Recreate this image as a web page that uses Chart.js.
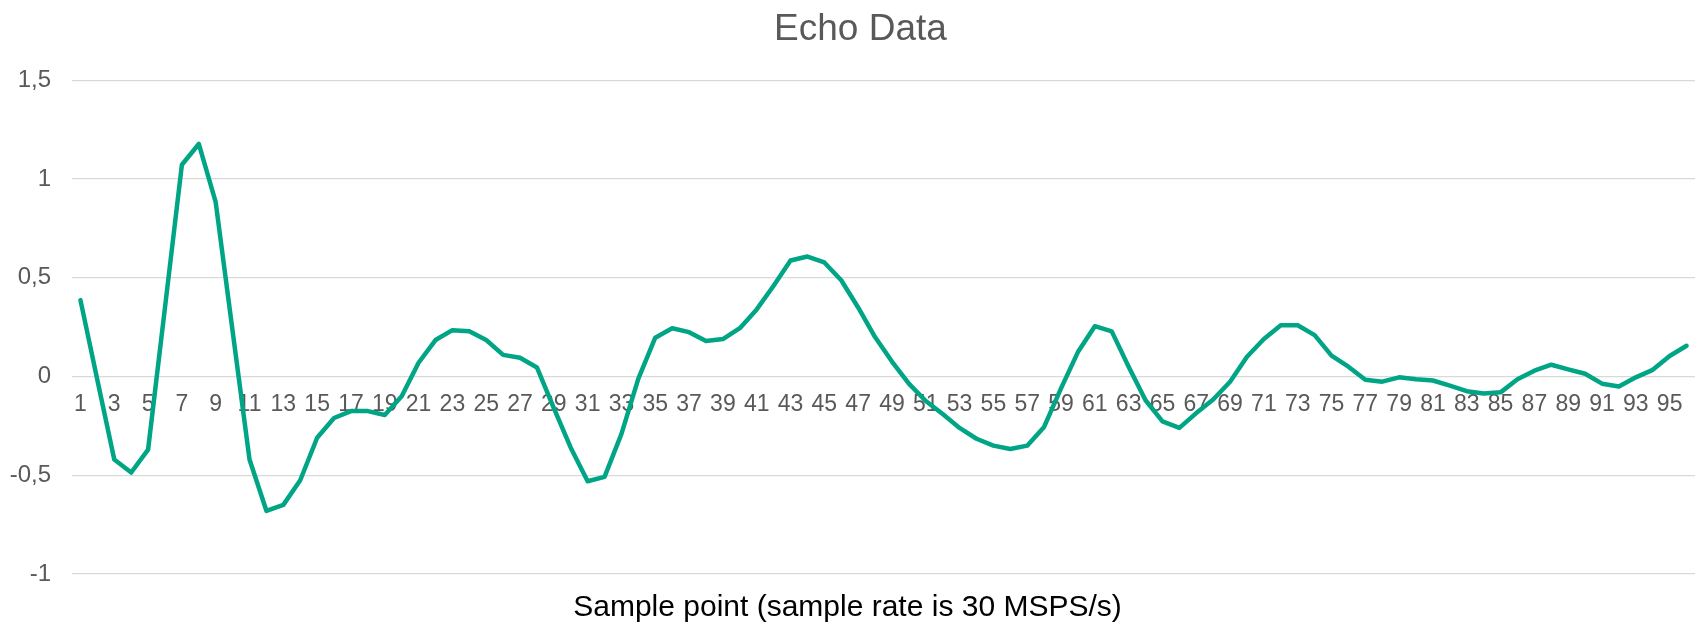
<!DOCTYPE html>
<html>
<head>
<meta charset="utf-8">
<title>Echo Data</title>
<script src="https://cdn.jsdelivr.net/npm/chart.js@4.4.0/dist/chart.umd.min.js"></script>
<style>
  html, body { margin: 0; padding: 0; background: #fff; }
</style>
</head>
<body>
<canvas id="echoChart" width="1702" height="622"></canvas>
<script>
// Data for the chart
const samplePoints = [
    1, 2, 3, 4, 5, 6, 7, 8, 9, 10, 11, 12, 13, 14, 15, 16,
    17, 18, 19, 20, 21, 22, 23, 24, 25, 26, 27, 28, 29, 30, 31, 32,
    33, 34, 35, 36, 37, 38, 39, 40, 41, 42, 43, 44, 45, 46, 47, 48,
    49, 50, 51, 52, 53, 54, 55, 56, 57, 58, 59, 60, 61, 62, 63, 64,
    65, 66, 67, 68, 69, 70, 71, 72, 73, 74, 75, 76, 77, 78, 79, 80,
    81, 82, 83, 84, 85, 86, 87, 88, 89, 90, 91, 92, 93, 94, 95, 96
];
const echoValues = [
    0.387, -0.017, -0.42, -0.486, -0.37, 0.35, 1.073, 1.178,
    0.883, 0.23, -0.42, -0.68, -0.65, -0.525, -0.31, -0.21,
    -0.175, -0.175, -0.195, -0.10, 0.07, 0.185, 0.235, 0.23,
    0.185, 0.11, 0.095, 0.046, -0.16, -0.36, -0.53, -0.508,
    -0.29, -0.01, 0.197, 0.245, 0.225, 0.18, 0.19, 0.245,
    0.34, 0.46, 0.588, 0.608, 0.578, 0.488, 0.35, 0.20,
    0.076, -0.036, -0.124, -0.19, -0.26, -0.315, -0.35, -0.367,
    -0.35, -0.255, -0.06, 0.124, 0.255, 0.229, 0.05, -0.12,
    -0.227, -0.26, -0.185, -0.116, -0.026, 0.10, 0.19, 0.26,
    0.26, 0.21, 0.106, 0.05, -0.016, -0.026, -0.004, -0.014,
    -0.02, -0.046, -0.074, -0.086, -0.08, -0.014, 0.03, 0.06,
    0.036, 0.014, -0.036, -0.05, -0.004, 0.034, 0.104, 0.156
];
// y tick labels use a decimal comma
const yTickLabels = { '1.5': '1,5', '1': '1', '0.5': '0,5', '0': '0', '-0.5': '-0,5', '-1': '-1' };

const fontFamily = "'Liberation Sans', Arial, sans-serif";
const gray = '#595959';

// the chart title sits a little right of the canvas centre
const shiftTitle = {
    id: 'shiftTitle',
    afterLayout(chart) {
        const t = chart.titleBlock;
        if (t) { t.left += 13; t.right += 13; }
    }
};

const data = {
    labels: samplePoints,
    datasets: [{
        label: 'Echo',
        data: echoValues,
        borderColor: '#00A585',
        backgroundColor: '#00A585',
        borderWidth: 4.5,
        pointRadius: 0,
        tension: 0,
        borderJoinStyle: 'round',
        borderCapStyle: 'round',
        fill: false
    }]
};

// Config for the chart
const config = {
    type: 'line',
    data: data,
    plugins: [shiftTitle],
    options: {
        responsive: false,
        animation: false,
        layout: { padding: { left: 0, right: 7, top: 0, bottom: 0 } },
        plugins: {
            legend: { display: false },
            tooltip: { enabled: false },
            title: {
                display: true,
                text: 'Echo Data',
                color: gray,
                font: { family: fontFamily, size: 37, weight: 'normal' },
                padding: { top: 8, bottom: 28 }
            },
            subtitle: {
                display: true,
                position: 'bottom',
                text: 'Sample point (sample rate is 30 MSPS/s)',
                color: '#000000',
                font: { family: fontFamily, size: 30, weight: 'normal' },
                padding: { top: 16, bottom: -4 }
            }
        },
        scales: {
            x: {
                position: { y: 0 },
                offset: true,
                grid: { display: false, drawTicks: false },
                border: { display: false },
                ticks: {
                    autoSkip: false,
                    maxRotation: 0,
                    minRotation: 0,
                    padding: 14,
                    color: gray,
                    font: { family: fontFamily, size: 23 },
                    callback: function (value, index) {
                        return index % 2 === 0 ? samplePoints[index] : '';
                    }
                }
            },
            y: {
                min: -1,
                max: 1.5,
                afterFit: function (scale) { scale.width = 72; },
                grid: { color: '#d9d9d9', lineWidth: 1.3, drawTicks: false },
                border: { display: false },
                ticks: {
                    stepSize: 0.5,
                    padding: 21,
                    color: gray,
                    font: { family: fontFamily, size: 24 },
                    callback: function (value) {
                        return yTickLabels[String(value)];
                    }
                }
            }
        }
    }
};

// Render the chart
const ctx = document.getElementById('echoChart').getContext('2d');
const echoChart = new Chart(ctx, config);
</script>
</body>
</html>
